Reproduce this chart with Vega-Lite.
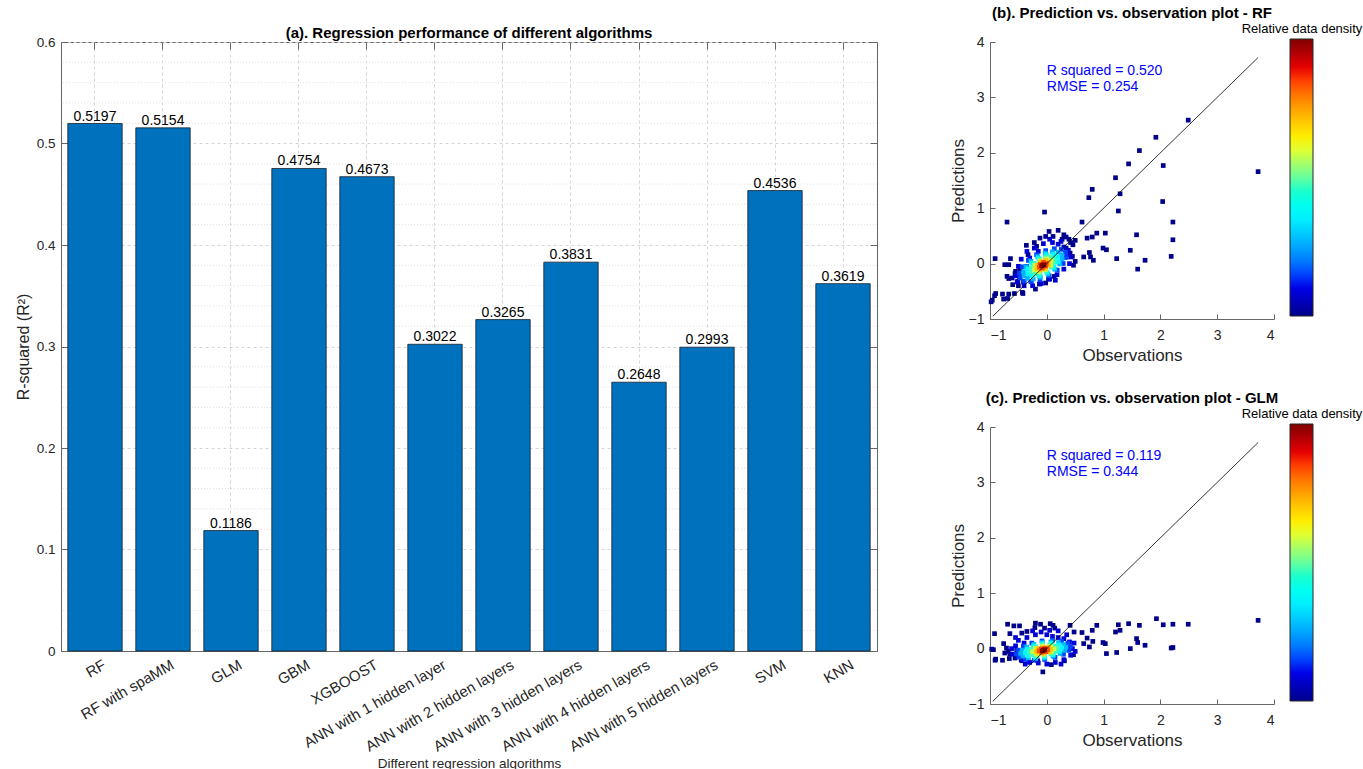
{
  "$schema": "https://vega.github.io/schema/vega-lite/v6.json",
  "background": "white",
  "padding": {"left": 14, "top": 6, "right": 0, "bottom": 0},
  "bounds": "flush",
  "spacing": 113,
  "config": {
    "font": "Liberation Sans",
    "axis": {"labelFont": "Liberation Sans", "titleFont": "Liberation Sans", "labelColor": "#262626", "titleColor": "#262626", "titleFontWeight": "normal", "domainColor": "#666666", "tickColor": "#666666"},
    "legend": {"titleFont": "Liberation Sans", "labelFont": "Liberation Sans"},
    "title": {"font": "Liberation Sans", "fontWeight": "bold", "fontSize": 15, "color": "#000000"},
    "text": {"font": "Liberation Sans"}
  },
  "datasets": {
    "bars": [
      {"algo": "RF", "r2": 0.5197},
      {"algo": "RF with spaMM", "r2": 0.5154},
      {"algo": "GLM", "r2": 0.1186},
      {"algo": "GBM", "r2": 0.4754},
      {"algo": "XGBOOST", "r2": 0.4673},
      {"algo": "ANN with 1 hidden layer", "r2": 0.3022},
      {"algo": "ANN with 2 hidden layers", "r2": 0.3265},
      {"algo": "ANN with 3 hidden layers", "r2": 0.3831},
      {"algo": "ANN with 4 hidden layers", "r2": 0.2648},
      {"algo": "ANN with 5 hidden layers", "r2": 0.2993},
      {"algo": "SVM", "r2": 0.4536},
      {"algo": "KNN", "r2": 0.3619}
    ],
    "minor": [
      {"g": 0.02}, {"g": 0.04}, {"g": 0.06}, {"g": 0.08},
      {"g": 0.12}, {"g": 0.14}, {"g": 0.16}, {"g": 0.18},
      {"g": 0.22}, {"g": 0.24}, {"g": 0.26}, {"g": 0.28},
      {"g": 0.32}, {"g": 0.34}, {"g": 0.36}, {"g": 0.38},
      {"g": 0.42}, {"g": 0.44}, {"g": 0.46}, {"g": 0.48},
      {"g": 0.52}, {"g": 0.54}, {"g": 0.56}, {"g": 0.58}
    ],
    "rf": [
      {"x":2.49,"y":2.59,"d":0},{"x":1.92,"y":2.28,"d":0},{"x":1.63,"y":2.04,"d":0},{"x":2.05,"y":1.77,"d":0},{"x":1.44,"y":1.80,"d":0},{"x":3.72,"y":1.66,"d":0},{"x":1.21,"y":1.55,"d":0},{"x":0.80,"y":1.34,"d":0},{"x":0.74,"y":1.19,"d":0},{"x":1.29,"y":1.26,"d":0},{"x":2.04,"y":1.12,"d":0},{"x":1.26,"y":0.95,"d":0},{"x":-0.04,"y":0.93,"d":0},{"x":-0.70,"y":0.75,"d":0},{"x":0.62,"y":0.75,"d":0},{"x":2.22,"y":0.75,"d":0},{"x":2.22,"y":0.43,"d":0},{"x":1.58,"y":0.52,"d":0},{"x":1.03,"y":0.55,"d":0},{"x":0.88,"y":0.55,"d":0},{"x":0.80,"y":0.48,"d":0},{"x":0.71,"y":0.46,"d":0},{"x":0.99,"y":0.28,"d":0},{"x":1.05,"y":0.25,"d":0},{"x":1.47,"y":0.24,"d":0},{"x":1.23,"y":0.09,"d":0},{"x":0.75,"y":0.20,"d":0},{"x":0.77,"y":0.12,"d":0},{"x":0.82,"y":0.06,"d":0},{"x":0.65,"y":0.12,"d":0},{"x":1.73,"y":0.06,"d":0},{"x":1.60,"y":-0.10,"d":0},{"x":2.19,"y":0.13,"d":0},{"x":-0.91,"y":0.09,"d":0},{"x":-0.36,"y":0.33,"d":0},{"x":-0.64,"y":0.09,"d":0},{"x":-0.74,"y":-0.02,"d":0},{"x":-0.67,"y":-0.02,"d":0},{"x":-0.70,"y":-0.23,"d":0},{"x":-0.67,"y":-0.27,"d":0},{"x":-0.56,"y":-0.18,"d":0},{"x":-0.51,"y":-0.32,"d":0},{"x":-0.42,"y":-0.54,"d":0},{"x":-0.57,"y":-0.54,"d":0},{"x":-0.67,"y":-0.55,"d":0},{"x":-0.78,"y":-0.55,"d":0},{"x":-0.90,"y":-0.54,"d":0},{"x":-0.92,"y":-0.58,"d":0},{"x":-0.76,"y":-0.64,"d":0},{"x":-0.69,"y":-0.63,"d":0},{"x":-0.96,"y":-0.66,"d":0},{"x":-0.98,"y":-0.69,"d":0},{"x":-0.20,"y":-0.46,"d":0},{"x":-0.13,"y":-0.37,"d":0},{"x":-0.02,"y":-0.35,"d":0},{"x":0.03,"y":-0.28,"d":0},{"x":0.13,"y":-0.23,"d":0},{"x":0.04,"y":0.58,"d":0},{"x":0.20,"y":0.60,"d":0},{"x":-0.02,"y":0.49,"d":0},{"x":-0.12,"y":0.46,"d":0},{"x":-0.18,"y":0.31,"d":0},{"x":0.11,"y":0.49,"d":0},{"x":0.27,"y":0.44,"d":0},{"x":0.34,"y":0.48,"d":0},{"x":0.39,"y":0.44,"d":0},{"x":0.50,"y":0.42,"d":0},{"x":0.46,"y":0.34,"d":0},{"x":0.34,"y":0.28,"d":0},{"x":0.41,"y":0.19,"d":0},{"x":0.45,"y":0.13,"d":0},{"x":0.50,"y":0.04,"d":0},{"x":0.47,"y":-0.03,"d":0},{"x":-0.33,"y":0.16,"d":0},{"x":-0.55,"y":-0.14,"d":0},{"x":-0.47,"y":-0.10,"d":0},{"x":-0.61,"y":-0.26,"d":0},{"x":-0.41,"y":-0.33,"d":0},{"x":-0.43,"y":-0.52,"d":0},{"x":-0.36,"y":-0.05,"d":0},{"x":0.30,"y":0.52,"d":0},{"x":-0.22,"y":0.38,"d":0},{"x":0.42,"y":0.38,"d":0},{"x":-0.50,"y":-0.40,"d":0},{"x":-0.60,"y":-0.38,"d":0},
      {"x":-0.55,"y":-0.22,"d":0.08},{"x":-0.50,"y":-0.05,"d":0.08},{"x":-0.45,"y":0.08,"d":0.08},{"x":-0.35,"y":0.22,"d":0.08},{"x":-0.22,"y":0.28,"d":0.08},{"x":-0.06,"y":0.36,"d":0.08},{"x":0.10,"y":0.38,"d":0.08},{"x":0.20,"y":0.35,"d":0.08},{"x":0.30,"y":0.30,"d":0.08},{"x":0.38,"y":0.24,"d":0.08},{"x":0.42,"y":0.12,"d":0.08},{"x":0.40,"y":0.00,"d":0.08},{"x":0.30,"y":-0.10,"d":0.08},{"x":0.18,"y":-0.20,"d":0.08},{"x":0.05,"y":-0.28,"d":0.08},{"x":-0.10,"y":-0.36,"d":0.08},{"x":-0.25,"y":-0.40,"d":0.08},{"x":-0.40,"y":-0.40,"d":0.08},{"x":-0.52,"y":-0.33,"d":0.08},{"x":-0.30,"y":0.10,"d":0.08},{"x":0.15,"y":-0.30,"d":0.08},{"x":0.05,"y":0.44,"d":0.08},{"x":-0.15,"y":0.22,"d":0.08},{"x":0.25,"y":0.40,"d":0.08},{"x":0.36,"y":0.16,"d":0.08},{"x":-0.48,"y":-0.25,"d":0.08},{"x":-0.28,"y":-0.32,"d":0.08},
      {"x":0.328,"y":0.200,"d":0.15},{"x":0.256,"y":0.256,"d":0.15},{"x":0.133,"y":0.268,"d":0.15},{"x":-0.020,"y":0.234,"d":0.15},{"x":-0.180,"y":0.161,"d":0.15},{"x":-0.324,"y":0.058,"d":0.15},{"x":-0.429,"y":-0.058,"d":0.15},{"x":-0.480,"y":-0.170,"d":0.15},{"x":-0.468,"y":-0.260,"d":0.15},{"x":-0.396,"y":-0.316,"d":0.15},{"x":-0.273,"y":-0.328,"d":0.15},{"x":-0.120,"y":-0.294,"d":0.15},{"x":0.040,"y":-0.221,"d":0.15},{"x":0.184,"y":-0.118,"d":0.15},{"x":0.289,"y":0.002,"d":0.15},{"x":0.340,"y":0.110,"d":0.15},
      {"x":0.259,"y":0.160,"d":0.27},{"x":0.199,"y":0.206,"d":0.27},{"x":0.099,"y":0.215,"d":0.27},{"x":-0.027,"y":0.187,"d":0.27},{"x":-0.160,"y":0.126,"d":0.27},{"x":-0.279,"y":0.041,"d":0.27},{"x":-0.367,"y":-0.055,"d":0.27},{"x":-0.409,"y":-0.146,"d":0.27},{"x":-0.399,"y":-0.220,"d":0.27},{"x":-0.339,"y":-0.266,"d":0.27},{"x":-0.239,"y":-0.275,"d":0.27},{"x":-0.113,"y":-0.247,"d":0.27},{"x":0.020,"y":-0.186,"d":0.27},{"x":0.139,"y":-0.101,"d":0.27},{"x":0.227,"y":-0.005,"d":0.27},{"x":0.269,"y":0.086,"d":0.27},
      {"x":0.190,"y":0.120,"d":0.37},{"x":0.118,"y":0.165,"d":0.37},{"x":-0.005,"y":0.158,"d":0.37},{"x":-0.145,"y":0.100,"d":0.37},{"x":-0.265,"y":0.008,"d":0.37},{"x":-0.333,"y":-0.095,"d":0.37},{"x":-0.330,"y":-0.180,"d":0.37},{"x":-0.258,"y":-0.225,"d":0.37},{"x":-0.135,"y":-0.218,"d":0.37},{"x":0.005,"y":-0.160,"d":0.37},{"x":0.125,"y":-0.068,"d":0.37},{"x":0.193,"y":0.035,"d":0.37},
      {"x":0.129,"y":0.085,"d":0.47},{"x":0.072,"y":0.122,"d":0.47},{"x":-0.022,"y":0.118,"d":0.47},{"x":-0.130,"y":0.074,"d":0.47},{"x":-0.222,"y":0.003,"d":0.47},{"x":-0.272,"y":-0.078,"d":0.47},{"x":-0.269,"y":-0.145,"d":0.47},{"x":-0.212,"y":-0.182,"d":0.47},{"x":-0.118,"y":-0.178,"d":0.47},{"x":-0.010,"y":-0.134,"d":0.47},{"x":0.082,"y":-0.063,"d":0.47},{"x":0.132,"y":0.018,"d":0.47},
      {"x":0.077,"y":0.055,"d":0.58},{"x":0.002,"y":0.085,"d":0.58},{"x":-0.115,"y":0.048,"d":0.58},{"x":-0.206,"y":-0.035,"d":0.58},{"x":-0.217,"y":-0.115,"d":0.58},{"x":-0.142,"y":-0.145,"d":0.58},{"x":-0.025,"y":-0.108,"d":0.58},{"x":0.066,"y":-0.025,"d":0.58},
      {"x":0.034,"y":0.030,"d":0.70},{"x":-0.021,"y":0.055,"d":0.70},{"x":-0.105,"y":0.031,"d":0.70},{"x":-0.168,"y":-0.030,"d":0.70},{"x":-0.174,"y":-0.090,"d":0.70},{"x":-0.119,"y":-0.115,"d":0.70},{"x":-0.035,"y":-0.091,"d":0.70},{"x":0.028,"y":-0.030,"d":0.70},
      {"x":-0.009,"y":0.005,"d":0.84},{"x":-0.059,"y":0.021,"d":0.84},{"x":-0.120,"y":-0.013,"d":0.84},{"x":-0.131,"y":-0.065,"d":0.84},{"x":-0.081,"y":-0.081,"d":0.84},{"x":-0.020,"y":-0.046,"d":0.84},
      {"x":-0.07,"y":-0.03,"d":1},{"x":-0.05,"y":-0.02,"d":1},{"x":-0.09,"y":-0.04,"d":1}
    ],
    "glm": [
      {"x":3.72,"y":0.51,"d":0},{"x":1.93,"y":0.54,"d":0},{"x":2.49,"y":0.44,"d":0},{"x":2.22,"y":0.44,"d":0},{"x":2.05,"y":0.43,"d":0},{"x":1.63,"y":0.42,"d":0},{"x":1.44,"y":0.45,"d":0},{"x":1.26,"y":0.43,"d":0},{"x":1.29,"y":0.33,"d":0},{"x":1.21,"y":0.30,"d":0},{"x":1.58,"y":0.18,"d":0},{"x":1.60,"y":0.11,"d":0},{"x":1.73,"y":0.06,"d":0},{"x":1.47,"y":0.00,"d":0},{"x":1.23,"y":-0.07,"d":0},{"x":1.05,"y":-0.09,"d":0},{"x":2.22,"y":0.02,"d":0},{"x":2.19,"y":0.01,"d":0},{"x":0.99,"y":0.11,"d":0},{"x":1.03,"y":0.09,"d":0},{"x":0.88,"y":0.42,"d":0},{"x":0.80,"y":0.33,"d":0},{"x":0.81,"y":0.13,"d":0},{"x":0.75,"y":0.03,"d":0},{"x":0.71,"y":0.19,"d":0},{"x":0.65,"y":0.09,"d":0},{"x":0.62,"y":0.29,"d":0},{"x":0.48,"y":0.30,"d":0},{"x":0.41,"y":0.42,"d":0},{"x":0.47,"y":-0.11,"d":0},{"x":0.31,"y":-0.22,"d":0},{"x":0.08,"y":-0.29,"d":0},{"x":-0.07,"y":-0.42,"d":0},{"x":-0.11,"y":0.44,"d":0},{"x":0.06,"y":0.45,"d":0},{"x":0.11,"y":0.42,"d":0},{"x":0.14,"y":0.37,"d":0},{"x":-0.20,"y":0.46,"d":0},{"x":-0.21,"y":0.38,"d":0},{"x":-0.04,"y":0.37,"d":0},{"x":-0.35,"y":0.31,"d":0},{"x":-0.48,"y":0.41,"d":0},{"x":-0.58,"y":0.41,"d":0},{"x":-0.69,"y":0.44,"d":0},{"x":-0.65,"y":0.27,"d":0},{"x":-0.44,"y":0.28,"d":0},{"x":-0.92,"y":0.27,"d":0},{"x":-0.97,"y":-0.01,"d":0},{"x":-0.94,"y":-0.02,"d":0},{"x":-0.90,"y":-0.19,"d":0},{"x":-0.91,"y":-0.21,"d":0},{"x":-0.78,"y":-0.21,"d":0},{"x":-0.66,"y":-0.18,"d":0},{"x":-0.56,"y":-0.17,"d":0},{"x":-0.76,"y":0.09,"d":0},{"x":-0.71,"y":0.01,"d":0},{"x":-0.68,"y":-0.05,"d":0},{"x":-0.74,"y":-0.08,"d":0},{"x":-0.65,"y":-0.10,"d":0},{"x":-0.53,"y":-0.03,"d":0},{"x":-0.44,"y":-0.22,"d":0},{"x":-0.16,"y":-0.22,"d":0},{"x":-0.33,"y":-0.23,"d":0},
      {"x":-0.55,"y":0.05,"d":0.08},{"x":-0.60,"y":-0.10,"d":0.08},{"x":-0.50,"y":0.15,"d":0.08},{"x":-0.45,"y":-0.20,"d":0.08},{"x":-0.35,"y":0.20,"d":0.08},{"x":-0.30,"y":-0.25,"d":0.08},{"x":-0.20,"y":0.25,"d":0.08},{"x":-0.10,"y":0.30,"d":0.08},{"x":0.00,"y":0.25,"d":0.08},{"x":0.10,"y":0.22,"d":0.08},{"x":0.20,"y":0.20,"d":0.08},{"x":0.30,"y":0.18,"d":0.08},{"x":0.40,"y":0.12,"d":0.08},{"x":0.45,"y":0.00,"d":0.08},{"x":0.50,"y":-0.05,"d":0.08},{"x":0.42,"y":-0.12,"d":0.08},{"x":0.30,"y":-0.20,"d":0.08},{"x":0.15,"y":-0.25,"d":0.08},{"x":0.00,"y":-0.28,"d":0.08},{"x":-0.15,"y":-0.26,"d":0.08},{"x":-0.40,"y":0.10,"d":0.08},{"x":0.35,"y":0.25,"d":0.08},{"x":-0.25,"y":0.32,"d":0.08},{"x":0.05,"y":0.33,"d":0.08},{"x":-0.38,"y":-0.28,"d":0.08},{"x":0.48,"y":0.10,"d":0.08},{"x":0.25,"y":-0.28,"d":0.08},{"x":-0.55,"y":0.20,"d":0.08},{"x":-0.62,"y":0.00,"d":0.08},{"x":0.20,"y":0.32,"d":0.08},
      {"x":0.415,"y":0.037,"d":0.15},{"x":0.371,"y":0.096,"d":0.15},{"x":0.259,"y":0.136,"d":0.15},{"x":0.100,"y":0.151,"d":0.15},{"x":-0.084,"y":0.138,"d":0.15},{"x":-0.264,"y":0.099,"d":0.15},{"x":-0.413,"y":0.042,"d":0.15},{"x":-0.509,"y":-0.028,"d":0.15},{"x":-0.535,"y":-0.097,"d":0.15},{"x":-0.491,"y":-0.156,"d":0.15},{"x":-0.379,"y":-0.196,"d":0.15},{"x":-0.220,"y":-0.211,"d":0.15},{"x":-0.036,"y":-0.198,"d":0.15},{"x":0.144,"y":-0.159,"d":0.15},{"x":0.293,"y":-0.102,"d":0.15},{"x":0.389,"y":-0.032,"d":0.15},
      {"x":0.336,"y":0.026,"d":0.27},{"x":0.298,"y":0.075,"d":0.27},{"x":0.206,"y":0.108,"d":0.27},{"x":0.073,"y":0.119,"d":0.27},{"x":-0.080,"y":0.109,"d":0.27},{"x":-0.229,"y":0.077,"d":0.27},{"x":-0.354,"y":0.028,"d":0.27},{"x":-0.434,"y":-0.029,"d":0.27},{"x":-0.456,"y":-0.086,"d":0.27},{"x":-0.418,"y":-0.135,"d":0.27},{"x":-0.326,"y":-0.168,"d":0.27},{"x":-0.193,"y":-0.179,"d":0.27},{"x":-0.040,"y":-0.169,"d":0.27},{"x":0.109,"y":-0.137,"d":0.27},{"x":0.234,"y":-0.088,"d":0.27},{"x":0.314,"y":-0.031,"d":0.27},
      {"x":0.257,"y":0.015,"d":0.37},{"x":0.206,"y":0.068,"d":0.37},{"x":0.083,"y":0.095,"d":0.37},{"x":-0.077,"y":0.089,"d":0.37},{"x":-0.233,"y":0.051,"d":0.37},{"x":-0.342,"y":-0.010,"d":0.37},{"x":-0.377,"y":-0.075,"d":0.37},{"x":-0.326,"y":-0.128,"d":0.37},{"x":-0.203,"y":-0.155,"d":0.37},{"x":-0.043,"y":-0.149,"d":0.37},{"x":0.113,"y":-0.111,"d":0.37},{"x":0.222,"y":-0.050,"d":0.37},
      {"x":0.188,"y":0.005,"d":0.47},{"x":0.147,"y":0.047,"d":0.47},{"x":0.053,"y":0.069,"d":0.47},{"x":-0.073,"y":0.064,"d":0.47},{"x":-0.195,"y":0.034,"d":0.47},{"x":-0.281,"y":-0.013,"d":0.47},{"x":-0.308,"y":-0.065,"d":0.47},{"x":-0.267,"y":-0.107,"d":0.47},{"x":-0.173,"y":-0.129,"d":0.47},{"x":-0.047,"y":-0.124,"d":0.47},{"x":0.075,"y":-0.094,"d":0.47},{"x":0.161,"y":-0.047,"d":0.47},
      {"x":0.128,"y":-0.003,"d":0.58},{"x":0.066,"y":0.041,"d":0.58},{"x":-0.071,"y":0.044,"d":0.58},{"x":-0.200,"y":0.003,"d":0.58},{"x":-0.248,"y":-0.057,"d":0.58},{"x":-0.186,"y":-0.101,"d":0.58},{"x":-0.050,"y":-0.104,"d":0.58},{"x":0.080,"y":-0.063,"d":0.58},
      {"x":0.069,"y":-0.012,"d":0.70},{"x":0.026,"y":0.022,"d":0.70},{"x":-0.068,"y":0.024,"d":0.70},{"x":-0.156,"y":-0.004,"d":0.70},{"x":-0.189,"y":-0.048,"d":0.70},{"x":-0.146,"y":-0.082,"d":0.70},{"x":-0.052,"y":-0.084,"d":0.70},{"x":0.036,"y":-0.056,"d":0.70},
      {"x":0.014,"y":-0.020,"d":0.84},{"x":-0.027,"y":0.005,"d":0.84},{"x":-0.101,"y":-0.005,"d":0.84},{"x":-0.134,"y":-0.041,"d":0.84},{"x":-0.093,"y":-0.065,"d":0.84},{"x":-0.019,"y":-0.055,"d":0.84},
      {"x":-0.06,"y":-0.03,"d":1},{"x":-0.04,"y":-0.02,"d":1},{"x":-0.08,"y":-0.04,"d":1}
    ]
  },
  "hconcat": [
    {
      "width": 816,
      "height": 609,
      "title": {"text": "(a). Regression performance of different algorithms", "offset": -6},
      "view": {"stroke": "#666666", "strokeWidth": 1},
      "layer": [
        {
          "data": {"name": "minor"},
          "mark": {"type": "rule", "color": "#e0e0e0", "strokeWidth": 1, "strokeDash": [1, 2]},
          "encoding": {"y": {"field": "g", "type": "quantitative", "axis": null}}
        },
        {
          "data": {"name": "bars"},
          "mark": {"type": "bar", "color": "#0072bd", "stroke": "#14202c", "strokeWidth": 0.8},
          "encoding": {
            "x": {"field": "algo", "type": "nominal", "sort": null,
              "scale": {"paddingInner": 0.2, "paddingOuter": 0.1},
              "axis": {"orient": "bottom", "bandPosition": 0.5, "title": "Different regression algorithms", "titleFontSize": 13.5, "titlePadding": 2,
                "labelAngle": -30, "labelAlign": "right", "labelBaseline": "top", "labelFontSize": 15, "labelPadding": 13, "labelOffset": 6,
                "tickSize": -7, "grid": true, "gridColor": "#d4d4d4", "gridDash": [3, 3], "domain": true}},
            "y": {"field": "r2", "type": "quantitative",
              "scale": {"domain": [0, 0.6], "nice": false},
              "axis": {"orient": "left", "title": "R-squared (R²)", "titleFontSize": 16, "titlePadding": 5,
                "values": [0, 0.1, 0.2, 0.3, 0.4, 0.5, 0.6], "format": "~g", "labelFontSize": 13.5, "labelPadding": 13,
                "tickSize": -7, "grid": true, "gridColor": "#d4d4d4", "gridDash": [3, 3], "domain": true}}
          }
        },
        {
          "data": {"name": "bars"},
          "mark": {"type": "text", "baseline": "alphabetic", "dy": -3, "fontSize": 14, "color": "#000000"},
          "encoding": {
            "x": {"field": "algo", "type": "nominal", "sort": null,
              "axis": {"orient": "top", "bandPosition": 0.5, "labels": false, "title": null, "tickSize": -7, "domain": false, "grid": false}},
            "y": {"field": "r2", "type": "quantitative",
              "axis": {"orient": "right", "labels": false, "title": null, "values": [0, 0.1, 0.2, 0.3, 0.4, 0.5, 0.6], "tickSize": -7, "domain": false, "grid": false}},
            "text": {"field": "r2", "type": "quantitative", "format": ".4f"}
          }
        }
      ],
      "resolve": {"axis": {"x": "independent", "y": "independent"}}
    },
    {
      "vconcat": [
        {
          "width": 284,
          "height": 277,
          "title": {"text": "(b). Prediction vs. observation plot - RF", "offset": 2},
          "view": {"stroke": null},
          "layer": [
            {
              "data": {"name": "rf"},
              "mark": {"type": "square", "size": 22, "opacity": 1, "filled": true},
              "encoding": {
                "x": {"field": "x", "type": "quantitative", "scale": {"domain": [-1, 4], "nice": false, "zero": false},
                  "axis": {"title": "Observations", "titleFontSize": 17, "titlePadding": 5, "values": [-1, 0, 1, 2, 3, 4], "format": "d", "labelFontSize": 14, "tickSize": -5, "labelPadding": 14, "grid": false}},
                "y": {"field": "y", "type": "quantitative", "scale": {"domain": [-1, 4], "nice": false, "zero": false},
                  "axis": {"title": "Predictions", "titleFontSize": 17, "titlePadding": 1, "values": [-1, 0, 1, 2, 3, 4], "format": "d", "labelFontSize": 14, "tickSize": -5, "labelPadding": 11, "grid": false}},
                "color": {"field": "d", "type": "quantitative",
                  "scale": {"domain": [0, 0.125, 0.375, 0.625, 0.875, 1], "range": ["#00008b", "#0000ff", "#00ffff", "#ffff00", "#ff0000", "#800000"]},
                  "legend": {"orient": "none", "legendX": 252, "legendY": -19, "title": "Relative data density", "titleFontSize": 13, "titleFontWeight": "normal", "titleColor": "#000000", "titleAnchor": "middle", "titleAlign": "center", "titlePadding": 3,
                    "labelExpr": "''", "labelOpacity": 0, "labelFontSize": 1, "labelOffset": 0, "gradientLength": 277, "gradientThickness": 23, "gradientStrokeColor": "#262626", "gradientStrokeWidth": 1, "padding": 0}}
              }
            },
            {
              "data": {"values": [{"x": -0.95, "y": -0.95}, {"x": 3.72, "y": 3.72}]},
              "mark": {"type": "line", "color": "#000000", "strokeWidth": 0.8},
              "encoding": {"x": {"field": "x", "type": "quantitative"}, "y": {"field": "y", "type": "quantitative"}}
            },
            {
              "data": {"values": [{"x": 0, "y": 3.48, "t": "R squared = 0.520"}, {"x": 0, "y": 3.19, "t": "RMSE = 0.254"}]},
              "mark": {"type": "text", "align": "left", "baseline": "middle", "color": "#0000ff", "fontSize": 14},
              "encoding": {"x": {"field": "x", "type": "quantitative"}, "y": {"field": "y", "type": "quantitative"}, "text": {"field": "t"}}
            }
          ]
        },
        {
          "width": 284,
          "height": 277,
          "title": {"text": "(c). Prediction vs. observation plot - GLM", "offset": 2},
          "view": {"stroke": null},
          "layer": [
            {
              "data": {"name": "glm"},
              "mark": {"type": "square", "size": 22, "opacity": 1, "filled": true},
              "encoding": {
                "x": {"field": "x", "type": "quantitative", "scale": {"domain": [-1, 4], "nice": false, "zero": false},
                  "axis": {"title": "Observations", "titleFontSize": 17, "titlePadding": 5, "values": [-1, 0, 1, 2, 3, 4], "format": "d", "labelFontSize": 14, "tickSize": -5, "labelPadding": 14, "grid": false}},
                "y": {"field": "y", "type": "quantitative", "scale": {"domain": [-1, 4], "nice": false, "zero": false},
                  "axis": {"title": "Predictions", "titleFontSize": 17, "titlePadding": 1, "values": [-1, 0, 1, 2, 3, 4], "format": "d", "labelFontSize": 14, "tickSize": -5, "labelPadding": 11, "grid": false}},
                "color": {"field": "d", "type": "quantitative",
                  "scale": {"domain": [0, 0.125, 0.375, 0.625, 0.875, 1], "range": ["#00008b", "#0000ff", "#00ffff", "#ffff00", "#ff0000", "#800000"]},
                  "legend": {"orient": "none", "legendX": 252, "legendY": -19, "title": "Relative data density", "titleFontSize": 13, "titleFontWeight": "normal", "titleColor": "#000000", "titleAnchor": "middle", "titleAlign": "center", "titlePadding": 3,
                    "labelExpr": "''", "labelOpacity": 0, "labelFontSize": 1, "labelOffset": 0, "gradientLength": 277, "gradientThickness": 23, "gradientStrokeColor": "#262626", "gradientStrokeWidth": 1, "padding": 0}}
              }
            },
            {
              "data": {"values": [{"x": -0.95, "y": -0.95}, {"x": 3.72, "y": 3.72}]},
              "mark": {"type": "line", "color": "#000000", "strokeWidth": 0.8},
              "encoding": {"x": {"field": "x", "type": "quantitative"}, "y": {"field": "y", "type": "quantitative"}}
            },
            {
              "data": {"values": [{"x": 0, "y": 3.48, "t": "R squared = 0.119"}, {"x": 0, "y": 3.19, "t": "RMSE = 0.344"}]},
              "mark": {"type": "text", "align": "left", "baseline": "middle", "color": "#0000ff", "fontSize": 14},
              "encoding": {"x": {"field": "x", "type": "quantitative"}, "y": {"field": "y", "type": "quantitative"}, "text": {"field": "t"}}
            }
          ]
        }
      ],
      "spacing": 108,
      "bounds": "flush",
      "resolve": {"scale": {"color": "independent"}}
    }
  ]
}
